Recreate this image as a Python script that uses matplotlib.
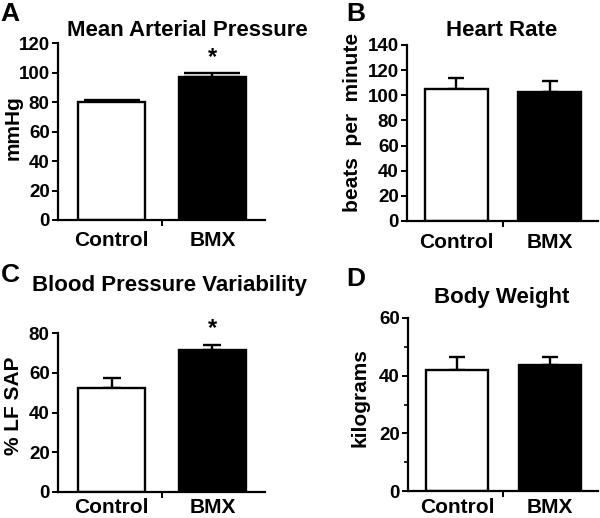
import matplotlib
matplotlib.use("Agg")
import matplotlib.pyplot as plt
from matplotlib.ticker import MultipleLocator

plt.rcParams['font.family'] = ['Liberation Sans', 'DejaVu Sans']
plt.rcParams['font.weight'] = 'bold'

GROUPS = ["Control", "BMX"]

MAP_MEAN = [80, 97]
MAP_SEM = [1.5, 2.5]

HR_MEAN = [105, 103]
HR_SEM = [8.5, 8.5]

BPV_MEAN = [52.5, 71.5]
BPV_SEM = [5.0, 2.7]

BW_MEAN = [41.8, 43.8]
BW_SEM = [4.6, 2.6]

PANELS = [
    {'letter': 'A', 'title': 'Mean Arterial Pressure', 'ylabel': 'mmHg',
     'mean': MAP_MEAN, 'sem': MAP_SEM, 'ymax': 120, 'step': 20, 'minor': None,
     'star': True, 'cap': 20},
    {'letter': 'B', 'title': 'Heart Rate', 'ylabel': 'beats  per  minute',
     'mean': HR_MEAN, 'sem': HR_SEM, 'ymax': 140, 'step': 20, 'minor': None,
     'star': False, 'cap': 6},
    {'letter': 'C', 'title': 'Blood Pressure Variability', 'ylabel': '% LF SAP',
     'mean': BPV_MEAN, 'sem': BPV_SEM, 'ymax': 80, 'step': 20, 'minor': None,
     'star': True, 'cap': 6.5},
    {'letter': 'D', 'title': 'Body Weight', 'ylabel': 'kilograms',
     'mean': BW_MEAN, 'sem': BW_SEM, 'ymax': 60, 'step': 20, 'minor': 10,
     'star': False, 'cap': 6},
]

W, H = 600, 518
# layout in pixels
BOXES = [(58, 265, 43, 220), (407, 598, 45, 221), (58, 265, 333, 492), (408, 598, 318, 491)]
TITLE_POS = [(187, 31), (502, 31), (169, 285), (502, 298)]
LETTER_POS = [(0, 14), (346, 14), (1, 275), (346, 279)]
YLABEL_POS = [(23, 0.52), (362, 0.56), (23, 0.54), (369, 0.54)]
XLABEL_GAP = [-8, -8.5, -4.5, -5]

fig = plt.figure(figsize=(6, 5.18), dpi=100)

for p, box, tpos, lpos, ylp, gap in zip(PANELS, BOXES, TITLE_POS, LETTER_POS, YLABEL_POS, XLABEL_GAP):
    l, r, t, b = box
    ax = fig.add_axes([l / W, 1 - b / H, (r - l) / W, (b - t) / H])
    x = range(len(GROUPS))
    ax.bar(x, p['mean'], width=0.67, color=['white', 'black'],
           edgecolor='black', linewidth=1.7, zorder=2)
    ax.errorbar(x, p['mean'], yerr=[[0, 0], p['sem']], fmt='none',
                ecolor='black', elinewidth=1.7, capsize=p['cap'], capthick=1.7, zorder=1)
    if p['star']:
        ax.annotate('*', (1, p['mean'][1] + p['sem'][1]), xytext=(0, 3),
                    textcoords='offset points', ha='center', va='bottom',
                    fontsize=17, annotation_clip=False)
    ax.set_xlim(-0.53, 1.52)
    ax.set_ylim(0, p['ymax'])
    ax.yaxis.set_major_locator(MultipleLocator(p['step']))
    if p['minor']:
        ax.yaxis.set_minor_locator(MultipleLocator(p['minor']))
    ax.set_xticks([0.5])
    ax.set_xticklabels([''])
    for i, g in enumerate(GROUPS):
        ax.annotate(g, (i, 0), xycoords=('data', 'axes fraction'), xytext=(0, gap),
                    textcoords='offset points', ha='center', va='top',
                    fontsize=15, fontweight='bold', annotation_clip=False)
    for s in ['top', 'right']:
        ax.spines[s].set_visible(False)
    for s in ['left', 'bottom']:
        ax.spines[s].set_linewidth(1.6)
    ax.tick_params(axis='both', which='major', direction='out', length=4, width=1.4,
                   labelsize=13.5, pad=2)
    ax.tick_params(axis='y', which='minor', direction='out', length=3, width=1.2)
    for lab in ax.get_yticklabels():
        lab.set_fontweight('bold')
    ax.set_ylabel(p['ylabel'], fontsize=15, fontweight='bold')
    ax.yaxis.set_label_coords((ylp[0] - l) / (r - l), ylp[1])
    fig.text(tpos[0] / W, 1 - tpos[1] / H, p['title'], ha='center', va='center',
             fontsize=16, fontweight='bold')
    fig.text(lpos[0] / W, 1 - lpos[1] / H, p['letter'], ha='left', va='center',
             fontsize=19, fontweight='bold')

fig.savefig('out.png', dpi=100)
